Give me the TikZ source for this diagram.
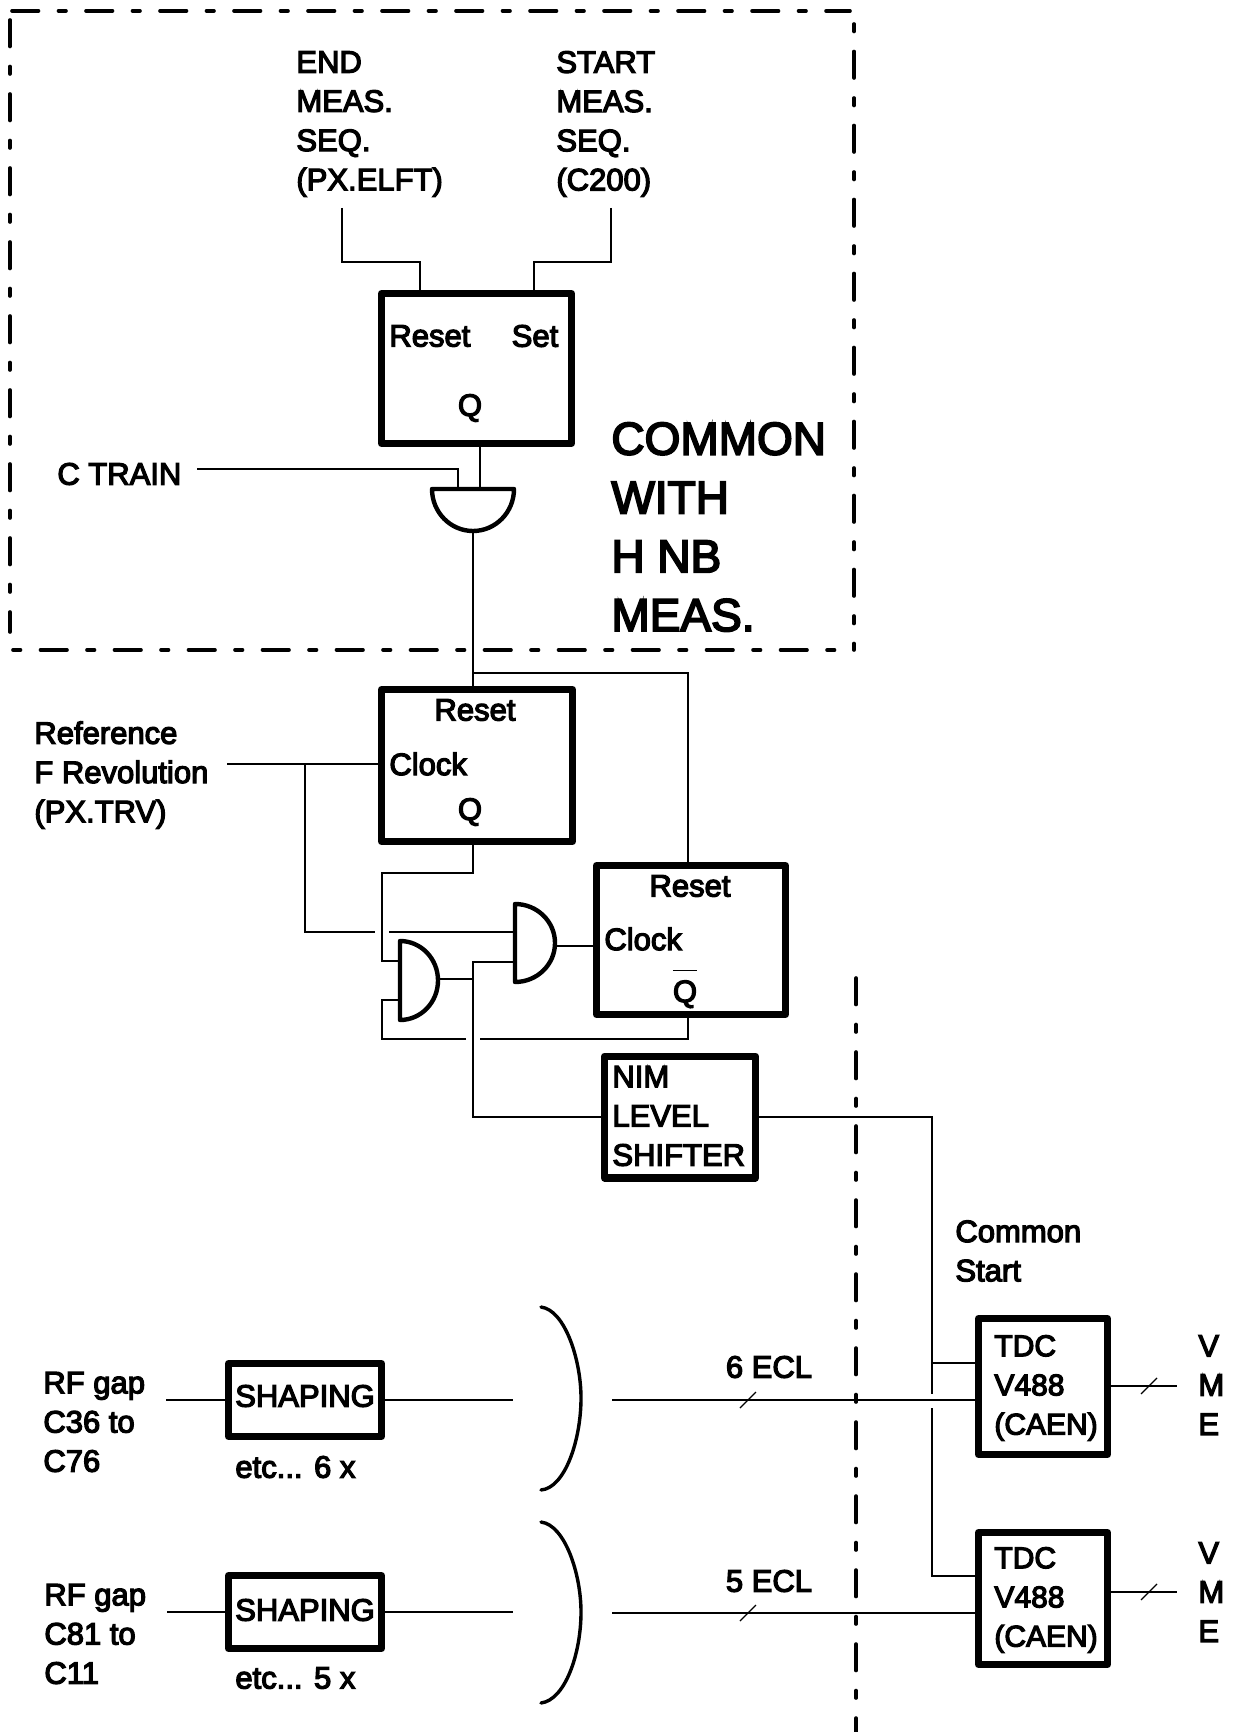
\documentclass[tikz,border=0pt]{standalone}
\usepackage{fontspec}
\setmainfont{Liberation Sans}[FakeBold=4]
\tikzset{
    latch/.style={draw=black, line width=3.6pt, line join=round, inner sep=0pt},
    gate/.style={draw=black, line width=2.2pt, line join=round},
    wire/.style={draw=black, line width=0.6pt},
    paren/.style={draw=black, line width=1.7pt, line cap=round},
    frameline/.style={draw=black, line width=1.8pt, line cap=round, dash pattern=on 13.25pt off 10pt on 3.75pt off 10pt},
    lbl/.style={font=\fontsize{15.5}{19.6}\selectfont, inner sep=0pt, align=left},
    tdclbl/.style={font=\fontsize{15}{19.6}\selectfont, inner sep=0pt, align=left},
    biglbl/.style={font=\fontsize{23}{29.4}\selectfont, inner sep=0pt, align=left}
}
\begin{document}
\begin{tikzpicture}[x=0.5pt, y=-0.5pt]
    \useasboundingbox (0,0) rectangle (1232,1732);
    % dash-dot borders
    \draw[frameline] (12,11) -- (850,11);
    \draw[frameline] (10,20) -- (10,632);
    \draw[frameline, dash phase=23.25pt] (854,24) -- (854,650);
    \draw[frameline, dash phase=23.25pt] (13,650) -- (852,650);
    \draw[frameline] (856,978) -- (856,1732);

    % blocks
    \node[latch, minimum width=94.9pt, minimum height=74.9pt] (ffone) at (476.5,368.5) {};
    \node[latch, minimum width=95.4pt, minimum height=75.9pt] (fftwo) at (477,765.5) {};
    \node[latch, minimum width=94.4pt, minimum height=74.4pt] (ffthree) at (691,940) {};
    \node[latch, minimum width=75.4pt, minimum height=60.9pt] (nim) at (680,1117) {};
    \node[latch, minimum width=76.4pt, minimum height=36.4pt] (shapea) at (305,1400) {};
    \node[latch, minimum width=76.4pt, minimum height=36.4pt] (shapeb) at (305,1612) {};
    \node[latch, minimum width=64.5pt, minimum height=68pt] (tdca) at (1043,1386.5) {};
    \node[latch, minimum width=64.5pt, minimum height=66pt] (tdcb) at (1043,1598.5) {};

    % gates
    \draw[gate] (432,489) -- (514,489) arc[start angle=0, end angle=-180, x radius=20.5pt, y radius=21pt] -- cycle;
    \draw[gate] (400,941) arc[start angle=90, end angle=-90, x radius=19pt, y radius=19.75pt] -- cycle;
    \draw[gate] (515,904) arc[start angle=90, end angle=-90, x radius=20pt, y radius=19.5pt] -- cycle;

    % free ends and pins
    \coordinate (endsig) at (342,208);
    \coordinate (startsig) at (611,208);
    \coordinate (ffonereset) at (420,292);
    \coordinate (ffoneset) at (534,292);
    \coordinate (gatecq) at (480,487);
    \coordinate (gatect) at (458,487);
    \coordinate (ctrain) at (197,469);
    \coordinate (gatezero) at (473,531);
    \coordinate (resetfork) at (473,673);
    \coordinate (ffthreer) at (688,864);
    \coordinate (refsig) at (227,764);
    \coordinate (clockfork) at (305,764);
    \coordinate (gateonea) at (515,932);
    \coordinate (gateoneb) at (515,962);
    \coordinate (gateone) at (555,946);
    \coordinate (gatetwoa) at (400,961);
    \coordinate (gatetwob) at (400,1000);
    \coordinate (gatetwo) at (438,979);
    \coordinate (outfork) at (473,979);
    \coordinate (railtop) at (932,1394);
    \coordinate (railbot) at (932,1408);
    \coordinate (tdcastart) at (975,1363);
    \coordinate (tdcbstart) at (975,1576);
    \coordinate (rfain) at (166,1400);
    \coordinate (rfbin) at (167,1612);
    \coordinate (busaout) at (513,1400);
    \coordinate (busbout) at (513,1612);
    \coordinate (busain) at (612,1400);
    \coordinate (busbin) at (612,1613);
    \coordinate (vmea) at (1177,1386);
    \coordinate (vmeb) at (1177,1592);

    % connections
    \draw[wire] (endsig) -- ++(0,54) -| (ffonereset);
    \draw[wire] (startsig) -- ++(0,54) -| (ffoneset);
    \draw[wire] (ffone.south -| gatecq) -- (gatecq);
    \draw[wire] (ctrain) -| (gatect);
    \draw[wire] (gatezero) -- (fftwo.north -| gatezero);
    \draw[wire] (resetfork) -| (ffthreer);
    \draw[wire] (refsig) -- (fftwo.west |- refsig);
    \draw[wire] (clockfork) |- (375,932);
    \draw[wire] (389,932) -- (gateonea);
    \draw[wire] (fftwo.south -| gatezero) |- (382,873) |- (gatetwoa);
    \draw[wire] (gatetwo) -- (outfork);
    \draw[wire] (outfork) |- (gateoneb);
    \draw[wire] (outfork) |- (nim.west);
    \draw[wire] (gateone) -- (ffthree.west |- gateone);
    \draw[wire] (ffthree.south -| ffthreer) |- (480,1039);
    \draw[wire] (466,1039) -- (382,1039) |- (gatetwob);
    \draw[wire] (nim.east) -| (railtop);
    \draw[wire] (railtop |- tdcastart) -- (tdcastart);
    \draw[wire] (railbot) |- (tdcbstart);
    \draw[wire] (rfain) -- (shapea.west);
    \draw[wire] (rfbin) -- (shapeb.west);
    \draw[wire] (shapea.east) -- (busaout);
    \draw[wire] (shapeb.east) -- (busbout);
    \draw[wire] (busain) -- (tdca.west |- busain);
    \draw[wire] (busbin) -- (tdcb.west |- busbin);
    \draw[wire] (tdca.east |- vmea) -- (vmea);
    \draw[wire] (tdcb.east |- vmeb) -- (vmeb);

    % bus ticks
    \draw[wire] (740,1408) -- (756,1392);
    \draw[wire] (740,1621) -- (756,1605);
    \draw[wire] (1141,1394) -- (1157,1378);
    \draw[wire] (1141,1600) -- (1157,1584);

    % brackets
    \draw[paren] (541,1307) .. controls (565,1310) and (581,1360) .. (581,1398) .. controls (581,1440) and (565,1488) .. (541,1490);
    \draw[paren] (541,1522) .. controls (565,1525) and (581,1574) .. (581,1612) .. controls (581,1654) and (565,1700) .. (541,1703);

    % labels
    \node[lbl, anchor=west] (endtxt) at (296,124) {END\\MEAS.\\SEQ.\\(PX.ELFT)};
    \node[lbl, anchor=west] (starttxt) at (556,124) {START\\MEAS.\\SEQ.\\(C200)};
    \node[lbl, anchor=west] (ffonertxt) at (389,336) {Reset};
    \node[lbl] (ffonestxt) at (535,336) {Set};
    \node[lbl] (ffoneqtxt) at (470,408) {Q};
    \node[lbl, anchor=west] (ctraintxt) at (57,474) {C TRAIN};
    \node[biglbl, anchor=west] (commontxt) at (611,527) {COMMON\\WITH\\H NB\\MEAS.};
    \node[lbl] (fftwortxt) at (475,710) {Reset};
    \node[lbl, anchor=west] (fftwoctxt) at (389,764) {Clock};
    \node[lbl] (fftwoqtxt) at (470,812) {Q};
    \node[lbl, anchor=west] (reftxt) at (34,775) {Reference\\F Revolution\\(PX.TRV)};
    \node[lbl] (ffthreertxt) at (690,886) {Reset};
    \node[lbl, anchor=west] (ffthreectxt) at (604,939) {Clock};
    \node[lbl] (ffthreeqtxt) at (685,988.5) {\(\overline{\rule{0pt}{14.5pt}\mbox{Q}}\)};
    \node[lbl, anchor=west] (nimtxt) at (612,1116) {NIM\\LEVEL\\SHIFTER};
    \node[lbl, anchor=west] (starttdc) at (955,1251) {Common\\Start};
    \node[lbl, anchor=west] (rfatxt) at (43,1422) {RF gap\\C36 to\\C76};
    \node[lbl, anchor=west] (rfbtxt) at (44,1634) {RF gap\\C81 to\\C11};
    \node[lbl] (shapeatxt) at (305,1396) {SHAPING};
    \node[lbl] (shapebtxt) at (305,1610) {SHAPING};
    \node[lbl, anchor=west] (etcatxt) at (235,1467) {etc... 6 x};
    \node[lbl, anchor=west] (etcbtxt) at (235,1678) {etc... 5 x};
    \node[lbl] (ecla) at (769,1367) {6 ECL};
    \node[lbl] (eclb) at (769,1581) {5 ECL};
    \node[tdclbl, anchor=west] (tdcatxt) at (994,1388) {TDC\\V488\\(CAEN)};
    \node[tdclbl, anchor=west] (tdcbtxt) at (994,1600) {TDC\\V488\\(CAEN)};
    \node[lbl, anchor=west] (vmeatxt) at (1198,1385) {V\\M\\E};
    \node[lbl, anchor=west] (vmebtxt) at (1198,1592) {V\\M\\E};
\end{tikzpicture}
\end{document}
